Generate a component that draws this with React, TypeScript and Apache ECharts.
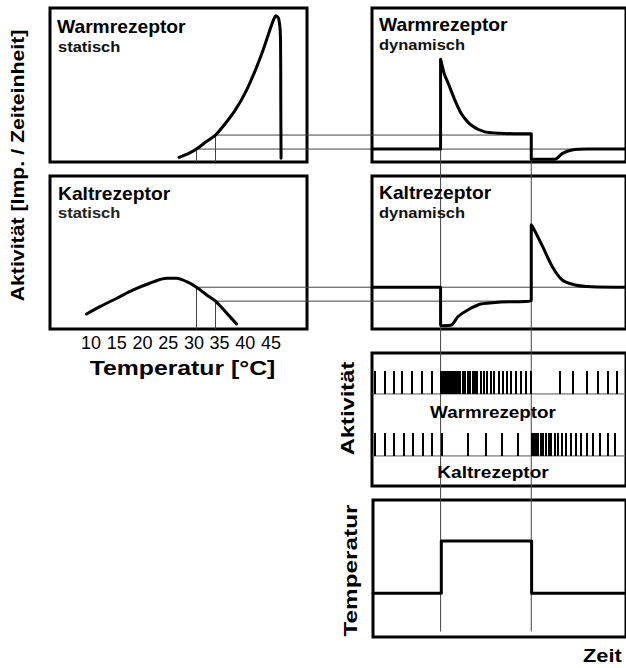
import React, { useEffect, useRef } from "react";
import * as echarts from "echarts";

const FONT = '"Liberation Sans", Arial, Helvetica, sans-serif';

// Reference temperatures (°C) and stimulus on/off times (arbitrary time units)
const T_LOW = 30.5;
const T_HIGH = 34.2;
const T_ON = 27;
const T_OFF = 62.7;

const tempTicks = [10, 15, 20, 25, 30, 35, 40, 45];

// Warmrezeptor statisch
const warmStaticT = [27.1, 29.0, 30.5, 32.1, 34.2, 36.0, 38.0, 40.0, 42.0, 43.5, 44.7, 45.5, 45.95, 46.5, 46.85, 46.9, 46.95];
const warmStaticV = [3.0, 5.6, 8.4, 12.5, 17.5, 24.5, 33.5, 45, 60, 73, 85, 92.5, 95, 93, 80, 40, 2.4];

// Kaltrezeptor statisch
const kaltStaticT = [9.1, 11.7, 15.0, 18.2, 21.4, 24.7, 26.6, 28.6, 30.5, 32.5, 34.2, 36.4, 38.3];
const kaltStaticV = [9.8, 14.6, 20.1, 25.5, 29.9, 33.1, 33.1, 30.9, 27.3, 22.2, 18.2, 10.3, 3.3];

// Warmrezeptor dynamisch
const warmDynT = [0, 27, 27, 27.4, 28.5, 30, 32.6, 35.1, 39, 44.1, 50.5, 56, 62.7, 62.7, 72, 75, 78.7, 85, 100];
const warmDynV = [8.4, 8.4, 66.7, 64.1, 57, 51.1, 40.3, 31.6, 24, 19.7, 18.6, 18.4, 18.4, 1.8, 1.8, 5.6, 7.8, 8.4, 8.4];

// Kaltrezeptor dynamisch
const kaltDynT = [0, 27, 27, 28, 31.3, 33.8, 37.7, 42.8, 50.5, 62.7, 62.7, 63.5, 67.2, 71, 74.9, 80, 86.4, 100];
const kaltDynV = [27.3, 27.3, 2.6, 2.2, 2.6, 8, 12.4, 16.3, 17.6, 18.5, 68, 66, 53.8, 40.7, 32, 28.8, 27.6, 27.3];

// Temperature step
const tempT = [0, 27, 27, 62.7, 62.7, 100];
const tempV = [32, 32, 70, 70, 32, 32];

// Spike trains (time units)
const warmSpikes = [
  1.2, 5.0, 8.5, 12.0, 15.9, 19.5, 23.6,
  27.1, 27.5, 27.9, 28.3, 28.7, 29.1, 29.5, 29.9, 30.3, 30.7,
  31.3, 32.2, 33.0, 33.8, 34.7, 35.7, 36.7, 37.7, 38.7, 39.6, 40.5, 41.5, 42.8, 44.1, 45.4, 46.7,
  48.2, 49.9, 51.5, 53.1, 54.7, 56.7, 58.8, 60.8, 62.5,
  74.0, 79.0, 84.5, 89.0, 92.8, 96.3,
];
const kaltSpikes = [
  1.2, 5.0, 8.8, 12.7, 16.3, 20.1, 23.6, 27.4,
  37.7, 44.7, 51.2, 57.6,
  63.1, 63.5, 63.9, 64.3, 64.7, 65.1, 65.5,
  66.5, 67.4, 68.5, 69.5, 70.6, 71.9, 73.3, 74.9, 76.5, 78.3, 80.2, 82.2, 84.5, 87.1, 89.9, 92.8, 95.6,
];

const warmRef = [8.4, 17.5]; // static activity at T_LOW, T_HIGH
const kaltRef = [27.3, 18.2];
const rowBase = [69.2, 22.6]; // baseline of spike rows (warm, kalt)
const SPIKE_H = 17.3;

const zip = (a: number[], b: number[]) => a.map((x, i) => [x, b[i]]);

export default function App() {
  const ref = useRef<HTMLDivElement>(null);

  useEffect(() => {
    const chart = echarts.init(ref.current!, undefined, { renderer: "svg" });

    const box = { show: true, borderColor: "#000", borderWidth: 3, backgroundColor: "transparent" };
    const grids = [
      { left: 50, top: 8, width: 257, height: 154 },
      { left: 372, top: 8, width: 260, height: 154 },
      { left: 50, top: 176, width: 257, height: 153 },
      { left: 372, top: 176, width: 260, height: 153 },
      { left: 372, top: 353, width: 260, height: 133 },
      { left: 373, top: 500, width: 260, height: 137 },
    ].map((g) => ({ ...g, ...box }));

    const hiddenX = (gi: number, min: number, max: number) => ({
      type: "value", gridIndex: gi, min, max, show: false,
    });
    const xAxes: any[] = [
      hiddenX(0, 2, 52),
      hiddenX(1, 0, 100),
      {
        type: "value", gridIndex: 2, min: 2, max: 52,
        axisLine: { show: false }, axisTick: { show: false }, splitLine: { show: false },
        axisLabel: {
          show: true, customValues: tempTicks, fontSize: 18, color: "#000",
          fontFamily: FONT, margin: 5,
        },
      },
      hiddenX(3, 0, 100),
      hiddenX(4, 0, 100),
      hiddenX(5, 0, 100),
    ];
    const yAxes: any[] = [0, 1, 2, 3, 4, 5].map((gi) => ({
      type: "value", gridIndex: gi, min: 0, max: 100, show: false,
    }));

    const curve = (xi: number, data: number[][], smooth: number | boolean = 0.3) => ({
      type: "line", xAxisIndex: xi, yAxisIndex: xi, data, smooth,
      showSymbol: false, silent: true,
      lineStyle: { color: "#000", width: 3, cap: "round", join: "round" },
      z: 3,
    });

    const spikeSeries = (times: number[], base: number) => ({
      type: "custom", xAxisIndex: 4, yAxisIndex: 4, silent: true, z: 3,
      data: times.map((t) => [t, base]),
      renderItem: (params: any, api: any) => {
        const t = api.value(0);
        const p0 = api.coord([t, base]);
        const p1 = api.coord([t, base + SPIKE_H]);
        const x = Math.round(p0[0]) - 1;
        const yTop = Math.round(p1[1]);
        const yBot = Math.round(p0[1]);
        return {
          type: "rect",
          shape: { x, y: yTop, width: 2, height: yBot - yTop },
          style: { fill: "#000" },
        };
      },
    });

    const baseline = (base: number) => ({
      type: "line", xAxisIndex: 4, yAxisIndex: 4, silent: true, showSymbol: false,
      data: [[0, base], [100, base]],
      lineStyle: { color: "#555", width: 1 }, z: 2,
    });

    chart.setOption({
      animation: false,
      grid: grids,
      xAxis: xAxes,
      yAxis: yAxes,
      series: [
        curve(0, zip(warmStaticT, warmStaticV), 0.25),
        curve(1, zip(warmDynT, warmDynV), 0.25),
        curve(2, zip(kaltStaticT, kaltStaticV), 0.3),
        curve(3, zip(kaltDynT, kaltDynV), 0.25),
        baseline(rowBase[0]),
        baseline(rowBase[1]),
        spikeSeries(warmSpikes, rowBase[0]),
        spikeSeries(kaltSpikes, rowBase[1]),
        curve(5, zip(tempT, tempV), false),
      ],
    });

    const px = (ai: number, v: number[]) =>
      chart.convertToPixel({ xAxisIndex: ai, yAxisIndex: ai }, v) as number[];

    const lineStyle = { stroke: "#444", lineWidth: 1 };
    const seg = (x1: number, y1: number, x2: number, y2: number) => ({
      type: "line", z: 1, silent: true,
      shape: { x1, y1, x2, y2 }, style: lineStyle,
    });

    const lines: any[] = [];
    const temps = [T_LOW, T_HIGH];
    // warm connectors
    temps.forEach((T, i) => {
      const p = px(0, [T, warmRef[i]]);
      const b = px(0, [T, 0]);
      lines.push(seg(p[0], p[1], p[0], b[1]));
      const xEnd = i === 0 ? px(1, [100, 0])[0] : px(1, [T_OFF, 0])[0];
      lines.push(seg(p[0], p[1], xEnd, p[1]));
    });
    // kalt connectors
    temps.forEach((T, i) => {
      const p = px(2, [T, kaltRef[i]]);
      const b = px(2, [T, 0]);
      lines.push(seg(p[0], p[1], p[0], b[1]));
      const xEnd = i === 0 ? px(3, [100, 0])[0] : px(3, [T_OFF, 0])[0];
      lines.push(seg(p[0], p[1], xEnd, p[1]));
    });
    // vertical time guides
    const onTop = px(1, [T_ON, 66.7]);
    const offTop = px(1, [T_OFF, 18.4]);
    const guideBottom = px(5, [0, 4])[1];
    lines.push(seg(onTop[0], onTop[1], onTop[0], guideBottom));
    lines.push(seg(offTop[0], offTop[1], offTop[0], guideBottom));

    const txt = (
      text: string, x: number, y: number, size: number, opts: any = {}
    ) => ({
      type: "text", x, y, z: 10, silent: true,
      rotation: opts.rotation || 0,
      scaleX: opts.scaleX || 1,
      style: {
        text,
        font: `${opts.weight || "bold"} ${size}px ${FONT}`,
        fill: opts.fill || "#000",
        align: opts.align || "left",
        textAlign: opts.align || "left",
        verticalAlign: "middle",
        textVerticalAlign: "middle",
      },
    });

    const texts = [
      txt("Warmrezeptor", 57, 27, 17.5, { scaleX: 1.1 }),
      txt("statisch", 58, 46.5, 15, { scaleX: 1.1, fill: "#111" }),
      txt("Warmrezeptor", 379, 25, 17.5, { scaleX: 1.1 }),
      txt("dynamisch", 379, 44.5, 15, { scaleX: 1.1, fill: "#111" }),
      txt("Kaltrezeptor", 58, 194, 17.5, { scaleX: 1.1 }),
      txt("statisch", 58, 213, 15, { scaleX: 1.1, fill: "#222" }),
      txt("Kaltrezeptor", 379, 193, 17.5, { scaleX: 1.1 }),
      txt("dynamisch", 379, 213, 15, { scaleX: 1.1, fill: "#111" }),
      txt("Aktivität [Imp. / Zeiteinheit]", 17.5, 165.5, 18.5, {
        rotation: Math.PI / 2, scaleX: 1.15, align: "center",
      }),
      txt("Temperatur [°C]", 182.5, 368, 20, { scaleX: 1.24, align: "center" }),
      txt("Aktivität", 348, 408.5, 19, { rotation: Math.PI / 2, scaleX: 1.25, align: "center" }),
      txt("Warmrezeptor", 493, 412.5, 16.5, { scaleX: 1.14, align: "center" }),
      txt("Kaltrezeptor", 493, 472.5, 16.5, { scaleX: 1.16, align: "center" }),
      txt("Temperatur", 350.5, 570.5, 19, { rotation: Math.PI / 2, scaleX: 1.28, align: "center" }),
      txt("Zeit", 583, 655, 19, { scaleX: 1.15 }),
    ];

    chart.setOption({ graphic: [...lines, ...texts] });

    return () => chart.dispose();
  }, []);

  return (
    <div
      ref={ref}
      style={{ position: "absolute", left: 0, top: 0, width: 626, height: 668, background: "#fff" }}
    />
  );
}
